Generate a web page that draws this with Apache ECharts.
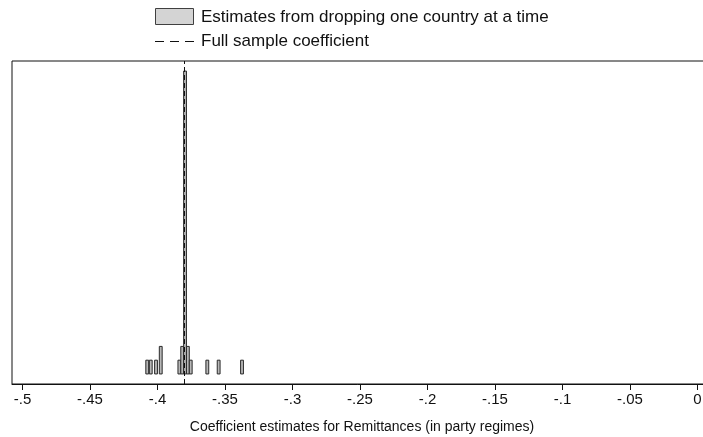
<!DOCTYPE html>
<html>
<head>
<meta charset="utf-8">
<script src="https://cdn.jsdelivr.net/npm/echarts@6/dist/echarts.min.js"></script>
<style>html,body{margin:0;padding:0;background:#fff;}#c{width:703px;height:437px;}</style>
</head>
<body>
<div id="c"></div>
<script>
// Histogram bins (bin centres) and frequencies
var binCenters = [-0.4076, -0.4050, -0.4011, -0.3976, -0.3838, -0.3817, -0.3796, -0.3775, -0.3754, -0.3631, -0.3547, -0.3374];
var binCounts  = [1, 1, 1, 2, 1, 2, 22, 2, 1, 1, 1, 1];
var binWidth = 0.0021;
var fullSampleCoef = -0.3797;
var tickValues = [-0.5, -0.45, -0.4, -0.35, -0.3, -0.25, -0.2, -0.15, -0.1, -0.05, 0];
var tickLabels = ['-.5', '-.45', '-.4', '-.35', '-.3', '-.25', '-.2', '-.15', '-.1', '-.05', '0'];
var xTitle = 'Coefficient estimates for Remittances (in party regimes)';
var legendBars = 'Estimates from dropping one country at a time';
var legendLine = 'Full sample coefficient';

var data = binCenters.map(function (c, i) { return [c, binCounts[i]]; });
var FONT = 'Liberation Sans, Arial, sans-serif';

var chart = echarts.init(document.getElementById('c'), null, {renderer: 'canvas'});
chart.setOption({
  animation: false,
  backgroundColor: '#fff',
  grid: {left: 12, top: 61, width: 700, height: 323, show: true, borderColor: '#111', borderWidth: 1,
         containLabel: false, outerBoundsMode: 'none'},
  xAxis: {
    type: 'value',
    min: -0.50778, max: 0.01074,
    splitLine: {show: false},
    axisLine: {show: true, onZero: false, lineStyle: {color: '#111', width: 1}},
    axisTick: {show: true, length: 6, customValues: tickValues, lineStyle: {color: '#111'}},
    axisLabel: {
      customValues: tickValues,
      fontFamily: FONT, fontSize: 15, color: '#111', margin: 8,
      formatter: function (v) {
        for (var i = 0; i < tickValues.length; i++) {
          if (Math.abs(tickValues[i] - v) < 1e-6) return tickLabels[i];
        }
        return '';
      }
    },
    name: xTitle, nameLocation: 'middle', nameGap: 36,
    nameTextStyle: {fontFamily: FONT, fontSize: 14, color: '#111'}
  },
  yAxis: {
    type: 'value', min: -0.73, max: 22.73, show: false, splitLine: {show: false}
  },
  series: [{
    type: 'custom',
    data: data,
    renderItem: function (params, api) {
      var c = api.value(0), n = api.value(1);
      var p0 = api.coord([c - binWidth / 2, n]);
      var p1 = api.coord([c + binWidth / 2, 0]);
      return {
        type: 'rect',
        shape: {x: p0[0], y: p0[1], width: p1[0] - p0[0], height: p1[1] - p0[1]},
        style: {fill: '#b8b8b8', stroke: '#2a2a2a', lineWidth: 1}
      };
    },
    markLine: {
      silent: true, symbol: 'none', label: {show: false},
      lineStyle: {color: '#111', type: [5, 3], width: 1},
      data: [{xAxis: fullSampleCoef}]
    },
    z: 2
  }],
  graphic: [
    {type: 'rect', shape: {x: 155.5, y: 8.5, width: 38, height: 16}, style: {fill: '#d4d4d4', stroke: '#404040', lineWidth: 1}},
    {type: 'text', style: {x: 201, y: 17, text: legendBars, fontFamily: FONT, fontSize: 17, fill: '#111', verticalAlign: 'middle'}},
    {type: 'line', shape: {x1: 155, y1: 41.5, x2: 194, y2: 41.5}, style: {stroke: '#111', lineWidth: 1, lineDash: [9, 6]}},
    {type: 'text', style: {x: 201, y: 41, text: legendLine, fontFamily: FONT, fontSize: 17, fill: '#111', verticalAlign: 'middle'}}
  ]
});
</script>
</body>
</html>
